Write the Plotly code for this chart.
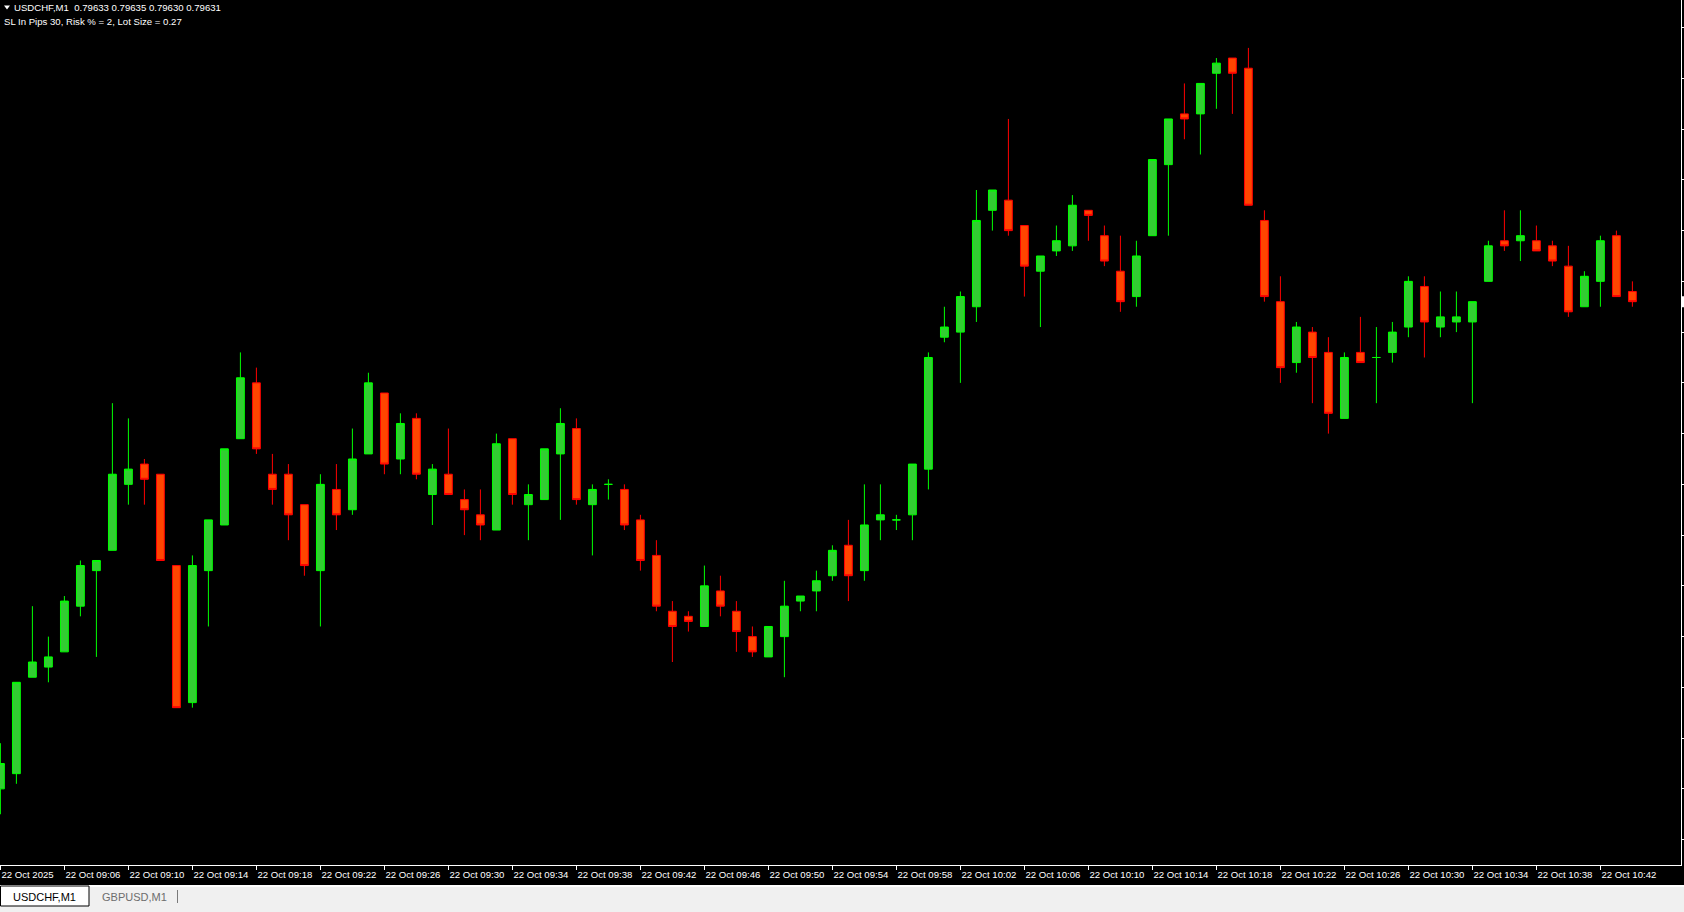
import numpy as np
import pandas as pd
import plotly.graph_objects as go

# ---------------- data (USDCHF, M1, 22 Oct 2025, from 09:02) ----------------
start_time = "2025-10-22 09:02"
opens = [0.79535, 0.79538, 0.79557, 0.79559, 0.79562, 0.79571, 0.79578, 0.79582, 0.79595, 0.79599,
         0.79597, 0.79579, 0.79552, 0.79578, 0.79587, 0.79604, 0.79615, 0.79597, 0.79597, 0.79591,
         0.79578, 0.79594, 0.79590, 0.79601, 0.79613, 0.79600, 0.79608, 0.79593, 0.79597, 0.79592,
         0.79589, 0.79586, 0.79604, 0.79591, 0.79592, 0.79601, 0.79606, 0.79591, 0.79595, 0.79594,
         0.79588, 0.79581, 0.79570, 0.79569, 0.79567, 0.79574, 0.79570, 0.79565, 0.79561, 0.79565,
         0.79572, 0.79574, 0.79577, 0.79583, 0.79578, 0.79588, 0.79588, 0.79589, 0.79598, 0.79624,
         0.79625, 0.79630, 0.79649, 0.79651, 0.79646, 0.79637, 0.79641, 0.79642, 0.79649, 0.79644,
         0.79637, 0.79632, 0.79644, 0.79658, 0.79668, 0.79668, 0.79676, 0.79679, 0.79677, 0.79647,
         0.79631, 0.79619, 0.79625, 0.79621, 0.79608, 0.79621, 0.79620, 0.79621, 0.79626, 0.79634,
         0.79626, 0.79627, 0.79627, 0.79635, 0.79643, 0.79643, 0.79643, 0.79642, 0.79638, 0.79630,
         0.79635, 0.79644, 0.79633]
highs = [0.79544, 0.79556, 0.79571, 0.79565, 0.79573, 0.79580, 0.79580, 0.79611, 0.79608, 0.79600,
         0.79597, 0.79579, 0.79581, 0.79588, 0.79602, 0.79621, 0.79618, 0.79601, 0.79599, 0.79591,
         0.79597, 0.79599, 0.79606, 0.79617, 0.79613, 0.79609, 0.79609, 0.79599, 0.79606, 0.79594,
         0.79594, 0.79605, 0.79604, 0.79595, 0.79602, 0.79610, 0.79608, 0.79595, 0.79596, 0.79595,
         0.79589, 0.79584, 0.79572, 0.79570, 0.79579, 0.79577, 0.79572, 0.79567, 0.79567, 0.79576,
         0.79573, 0.79578, 0.79583, 0.79588, 0.79595, 0.79595, 0.79589, 0.79599, 0.79621, 0.79630,
         0.79633, 0.79653, 0.79653, 0.79667, 0.79646, 0.79640, 0.79646, 0.79652, 0.79649, 0.79646,
         0.79644, 0.79643, 0.79659, 0.79667, 0.79674, 0.79674, 0.79679, 0.79679, 0.79681, 0.79649,
         0.79636, 0.79627, 0.79626, 0.79624, 0.79621, 0.79628, 0.79626, 0.79627, 0.79636, 0.79636,
         0.79633, 0.79633, 0.79631, 0.79643, 0.79649, 0.79649, 0.79646, 0.79643, 0.79642, 0.79637,
         0.79644, 0.79645, 0.79635]
lows = [0.79530, 0.79536, 0.79557, 0.79556, 0.79562, 0.79569, 0.79561, 0.79582, 0.79591, 0.79591,
        0.79580, 0.79551, 0.79551, 0.79567, 0.79587, 0.79604, 0.79601, 0.79591, 0.79584, 0.79577,
        0.79567, 0.79586, 0.79589, 0.79601, 0.79597, 0.79597, 0.79596, 0.79587, 0.79593, 0.79585,
        0.79584, 0.79586, 0.79591, 0.79584, 0.79592, 0.79588, 0.79591, 0.79581, 0.79592, 0.79586,
        0.79578, 0.79570, 0.79560, 0.79566, 0.79567, 0.79569, 0.79562, 0.79561, 0.79561, 0.79557,
        0.79570, 0.79570, 0.79576, 0.79572, 0.79576, 0.79584, 0.79586, 0.79584, 0.79594, 0.79623,
        0.79615, 0.79627, 0.79645, 0.79644, 0.79632, 0.79626, 0.79640, 0.79641, 0.79643, 0.79638,
        0.79629, 0.79630, 0.79644, 0.79644, 0.79663, 0.79660, 0.79669, 0.79668, 0.79650, 0.79631,
        0.79615, 0.79617, 0.79611, 0.79605, 0.79608, 0.79619, 0.79611, 0.79619, 0.79624, 0.79620,
        0.79624, 0.79625, 0.79611, 0.79635, 0.79641, 0.79639, 0.79641, 0.79638, 0.79628, 0.79630,
        0.79630, 0.79632, 0.79630]
closes = [0.79540, 0.79556, 0.79560, 0.79561, 0.79572, 0.79579, 0.79580, 0.79597, 0.79598, 0.79596,
          0.79580, 0.79551, 0.79579, 0.79588, 0.79602, 0.79616, 0.79602, 0.79594, 0.79589, 0.79579,
          0.79595, 0.79589, 0.79600, 0.79615, 0.79599, 0.79607, 0.79597, 0.79598, 0.79593, 0.79590,
          0.79587, 0.79603, 0.79593, 0.79593, 0.79602, 0.79607, 0.79592, 0.79594, 0.79595, 0.79587,
          0.79580, 0.79571, 0.79567, 0.79568, 0.79575, 0.79571, 0.79566, 0.79562, 0.79567, 0.79571,
          0.79573, 0.79576, 0.79582, 0.79577, 0.79587, 0.79589, 0.79588, 0.79599, 0.79620, 0.79626,
          0.79632, 0.79647, 0.79653, 0.79645, 0.79638, 0.79640, 0.79643, 0.79650, 0.79648, 0.79639,
          0.79631, 0.79640, 0.79659, 0.79667, 0.79667, 0.79674, 0.79678, 0.79676, 0.79650, 0.79632,
          0.79618, 0.79626, 0.79620, 0.79609, 0.79620, 0.79619, 0.79620, 0.79625, 0.79635, 0.79627,
          0.79628, 0.79628, 0.79631, 0.79642, 0.79642, 0.79644, 0.79641, 0.79639, 0.79629, 0.79636,
          0.79643, 0.79632, 0.79631]

tick_times = ["09:02", "09:06", "09:10", "09:14", "09:18", "09:22", "09:26", "09:30", "09:34",
              "09:38", "09:42", "09:46", "09:50", "09:54", "09:58", "10:02", "10:06", "10:10",
              "10:14", "10:18", "10:22", "10:26", "10:30", "10:34", "10:38", "10:42"]
tick_labels = ["22 Oct 2025", "22 Oct 09:06", "22 Oct 09:10", "22 Oct 09:14", "22 Oct 09:18",
               "22 Oct 09:22", "22 Oct 09:26", "22 Oct 09:30", "22 Oct 09:34", "22 Oct 09:38",
               "22 Oct 09:42", "22 Oct 09:46", "22 Oct 09:50", "22 Oct 09:54", "22 Oct 09:58",
               "22 Oct 10:02", "22 Oct 10:06", "22 Oct 10:10", "22 Oct 10:14", "22 Oct 10:18",
               "22 Oct 10:22", "22 Oct 10:26", "22 Oct 10:30", "22 Oct 10:34", "22 Oct 10:38",
               "22 Oct 10:42"]
symbol = "USDCHF,M1"
info_line = "SL In Pips 30, Risk % = 2, Lot Size = 0.27"
tabs = ["USDCHF,M1", "GBPUSD,M1"]

# ---------------- build ----------------
times = pd.date_range(start=start_time, periods=len(opens), freq="min")
o = np.array(opens); h = np.array(highs); l = np.array(lows); c = np.array(closes)
bull = c >= o
bear = ~bull

UP_LINE, UP_FILL = "#00FF00", "#32CD32"
DN_LINE, DN_FILL = "#FF0000", "#FF4500"

W, H = 1684, 912
ML, MR, MT, MB = 0, 3, 0, 47
PW, PH = W - ML - MR, H - MT - MB


def px_x(px):
    return (px - ML) / PW


def px_y(py):
    return (H - MB - py) / PH


fig = go.Figure()
for mask, lc, fc in ((bull, UP_LINE, UP_FILL), (bear, DN_LINE, DN_FILL)):
    fig.add_trace(go.Candlestick(
        x=times[mask], open=o[mask], high=h[mask], low=l[mask], close=c[mask],
        increasing=dict(line=dict(color=lc, width=1), fillcolor=fc),
        decreasing=dict(line=dict(color=lc, width=1), fillcolor=fc),
        whiskerwidth=0, showlegend=False, hoverinfo="skip",
    ))

tick_vals = [f"2025-10-22 {t}" for t in tick_times]
axis_font = dict(family="Liberation Sans, Arial, sans-serif", size=9.6, color="#FFFFFF")

fig.update_layout(
    width=W, height=H,
    margin=dict(l=ML, r=MR, t=MT, b=MB, pad=0),
    paper_bgcolor="#000000", plot_bgcolor="#000000",
    showlegend=False,
    xaxis=dict(
        type="date", range=["2025-10-22 09:01:58.5", "2025-10-22 10:47:02.25"],
        rangeslider=dict(visible=False), showgrid=False, zeroline=False,
        showline=True, linecolor="#FFFFFF", linewidth=1,
        ticks="outside", ticklen=4, tickwidth=1, tickcolor="#FFFFFF",
        tickvals=tick_vals, ticktext=tick_labels, ticklabelposition="outside right",
        tickangle=0, tickfont=axis_font, fixedrange=True, automargin=False,
    ),
    yaxis=dict(
        side="right", range=[0.79520, 0.7969044], showgrid=False, zeroline=False,
        showline=True, linecolor="#FFFFFF", linewidth=1,
        ticks="outside", ticklen=3, tickwidth=1, tickcolor="#FFFFFF",
        tick0=0.79525, dtick=0.0001, showticklabels=False, fixedrange=True,
        automargin=False,
    ),
)

shapes = []
# header triangle
shapes.append(dict(type="path", xref="paper", yref="paper",
                   path=f"M {px_x(4)} {px_y(5.5)} L {px_x(10)} {px_y(5.5)} L {px_x(7)} {px_y(9.5)} Z",
                   fillcolor="#FFFFFF", line=dict(width=0)))
# current price marker on the price scale
shapes.append(dict(type="rect", xref="paper", yref="y", x0=px_x(1682), x1=px_x(1685),
                   y0=closes[-1] - 0.0000108, y1=closes[-1] + 0.0000108,
                   fillcolor="#FFFFFF", line=dict(width=0), layer="above"))
# tab bar
shapes.append(dict(type="rect", xref="paper", yref="paper", x0=px_x(0), x1=px_x(W),
                   y0=px_y(912), y1=px_y(885), fillcolor="#F0F0F0", line=dict(width=0)))
shapes.append(dict(type="line", xref="paper", yref="paper", x0=px_x(0), x1=px_x(W),
                   y0=px_y(886), y1=px_y(886), line=dict(color="#FFFFFF", width=2)))
shapes.append(dict(type="rect", xref="paper", yref="paper", x0=px_x(0.5), x1=px_x(89),
                   y0=px_y(906), y1=px_y(886), fillcolor="#FFFFFF",
                   line=dict(color="#000000", width=1)))
shapes.append(dict(type="line", xref="paper", yref="paper", x0=px_x(177.5), x1=px_x(177.5),
                   y0=px_y(903), y1=px_y(890), line=dict(color="#7A7A7A", width=1)))
fig.update_layout(shapes=shapes)

hdr_font = dict(family="Liberation Sans, Arial, sans-serif", size=9.6, color="#FFFFFF")
tab_font = dict(family="Liberation Sans, Arial, sans-serif", size=11)
annotations = [
    dict(text=f"{symbol}\u00a0\u00a0{opens[-1]:.5f} {highs[-1]:.5f} {lows[-1]:.5f} {closes[-1]:.5f}",
         xref="paper", yref="paper", x=px_x(13), y=px_y(1.5), xanchor="left", yanchor="top",
         showarrow=False, font=hdr_font, borderpad=0),
    dict(text=info_line, xref="paper", yref="paper", x=px_x(3), y=px_y(14.5),
         xanchor="left", yanchor="top", showarrow=False, font=hdr_font, borderpad=0),
    dict(text=tabs[0], xref="paper", yref="paper", x=px_x(44.5), y=px_y(896.5),
         xanchor="center", yanchor="middle", showarrow=False,
         font=dict(tab_font, color="#000000"), borderpad=0),
    dict(text=tabs[1], xref="paper", yref="paper", x=px_x(134), y=px_y(896.5),
         xanchor="center", yanchor="middle", showarrow=False,
         font=dict(tab_font, color="#6D6D6D"), borderpad=0),
]
fig.update_layout(annotations=annotations)

fig.write_html(
    "out.html",
    config={"displayModeBar": False},
    post_script="document.body.style.margin='0';document.body.style.overflow='hidden';",
)
